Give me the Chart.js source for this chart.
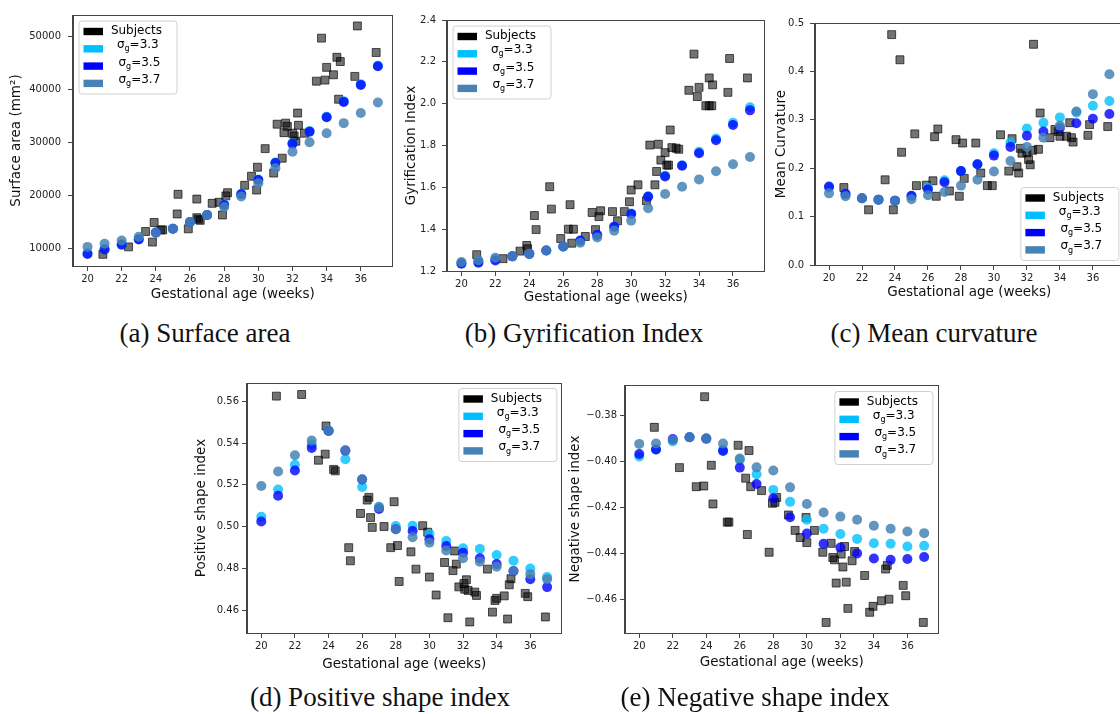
<!DOCTYPE html>
<html>
<head>
<meta charset="utf-8">
<script src="https://cdn.jsdelivr.net/npm/chart.js@4.4.0/dist/chart.umd.min.js"></script>
<style>
    html, body { margin: 0; padding: 0; background: #fff; width: 1120px; height: 714px; overflow: hidden; }
    canvas { position: absolute; }
    .caption {
        position: absolute;
        font-family: 'Liberation Serif', 'DejaVu Serif', serif;
        font-size: 27px;
        line-height: 31px;
        color: #111;
        transform: translateX(-50%);
        white-space: nowrap;
    }
</style>
</head>
<body>
<canvas id="surfaceChart"></canvas>
<canvas id="gyrificationChart"></canvas>
<canvas id="curvatureChart"></canvas>
<canvas id="positiveChart"></canvas>
<canvas id="negativeChart"></canvas>
<div class="caption" style="left:205px; top:318px;">(a) Surface area</div>
<div class="caption" style="left:584px; top:318px;">(b) Gyrification Index</div>
<div class="caption" style="left:934px; top:318px;">(c) Mean curvature</div>
<div class="caption" style="left:380px; top:682px;">(d) Positive shape index</div>
<div class="caption" style="left:755px; top:682px;">(e) Negative shape index</div>
<script>
// Model ages (weeks) and shared tick labels
const modelAges = [20, 21, 22, 23, 24, 25, 26, 27, 28, 29, 30, 31, 32, 33, 34, 35, 36, 37];
const ageTicks = [20, 22, 24, 26, 28, 30, 32, 34, 36];
const sigmaValues = ['3.3', '3.5', '3.7'];
const subjectsLabel = 'Subjects';

// (a) Surface area
const surfaceSubjects = [[20.9, 8900], [22.4, 10300], [23.4, 13200], [23.8, 11200], [23.9, 14900], [24.3, 13500], [24.4, 13500],
    [25.25, 16500], [25.3, 20200], [25.9, 13700], [26.4, 19300], [26.4, 15800], [26.5, 15500], [26.6, 15300], [27.3, 18500],
    [27.7, 18700], [27.9, 16300], [28.1, 19900], [28.2, 20500], [29.2, 21900], [29.6, 23600], [29.9, 21000], [29.95, 25300],
    [30.4, 28800], [30.9, 24200], [31.1, 33400], [31.4, 27000], [31.5, 31800], [31.6, 33600], [31.7, 33000], [32.0, 31700],
    [32.1, 31200], [32.2, 30200], [32.3, 35500], [32.35, 33200], [32.7, 31700], [33.4, 41500], [33.7, 49600], [33.9, 41700],
    [34.0, 44100], [34.4, 42700], [34.6, 46000], [34.7, 38100], [34.8, 45200], [35.65, 42400], [35.8, 51900], [36.9, 46900]];
const surfaceS33 = [9100, 9900, 10800, 11800, 13000, 13700, 15000, 16300, 18300, 20300, 23000, 26200, 29800, 32100, 34800, 37700, 40900, 44400];
const surfaceS35 = [8950, 9800, 10700, 11700, 13000, 13700, 15000, 16300, 18200, 20200, 22900, 26100, 29700, 32000, 34700, 37600, 40800, 44300];
const surfaceS37 = [10300, 10900, 11500, 12200, 12900, 13700, 15000, 16300, 17800, 19800, 22300, 25100, 28200, 30000, 31700, 33600, 35500, 37500];
const surfaceTicks = [10000, 20000, 30000, 40000, 50000];

// (b) Gyrification index
const gyrSubjects = [[20.9, 1.278], [22.45, 1.259], [23.45, 1.295], [23.85, 1.322], [23.9, 1.306], [24.3, 1.465], [24.4, 1.398],
    [25.2, 1.603], [25.3, 1.496], [25.85, 1.355], [26.3, 1.40], [26.4, 1.517], [26.5, 1.333], [26.6, 1.40], [27.3, 1.365],
    [27.7, 1.48], [27.9, 1.398], [28.1, 1.46], [28.2, 1.488], [28.9, 1.484], [29.2, 1.44], [29.6, 1.484], [29.9, 1.531],
    [30.0, 1.587], [30.4, 1.612], [30.9, 1.536], [31.1, 1.802], [31.4, 1.612], [31.5, 1.676], [31.6, 1.806], [31.75, 1.73],
    [32.0, 1.766], [32.1, 1.706], [32.2, 1.706], [32.3, 1.874], [32.4, 1.79], [32.65, 1.787], [32.8, 1.782], [33.4, 2.064],
    [33.7, 2.237], [33.9, 2.034], [34.0, 2.078], [34.4, 1.99], [34.6, 2.123], [34.6, 1.99], [34.75, 1.99], [34.8, 2.09],
    [35.7, 2.054], [35.8, 2.216], [36.85, 2.123]];
const gyrS33 = [1.238, 1.243, 1.255, 1.27, 1.283, 1.298, 1.317, 1.343, 1.37, 1.41, 1.475, 1.557, 1.655, 1.706, 1.77, 1.833, 1.909, 1.983];
const gyrS35 = [1.235, 1.24, 1.25, 1.27, 1.282, 1.298, 1.317, 1.346, 1.373, 1.412, 1.473, 1.555, 1.652, 1.703, 1.763, 1.825, 1.898, 1.968];
const gyrS37 = [1.243, 1.251, 1.263, 1.27, 1.282, 1.298, 1.317, 1.335, 1.36, 1.393, 1.441, 1.50, 1.568, 1.603, 1.638, 1.677, 1.71, 1.745];
const gyrTicks = [1.2, 1.4, 1.6, 1.8, 2.0, 2.2, 2.4];

// (c) Mean curvature
const curvSubjects = [[20.9, 0.160], [22.4, 0.114], [23.4, 0.176], [23.8, 0.476], [23.9, 0.114], [24.3, 0.424], [24.4, 0.233],
    [25.2, 0.271], [25.3, 0.164], [25.9, 0.165], [26.3, 0.174], [26.4, 0.265], [26.5, 0.142], [26.6, 0.281], [27.3, 0.153],
    [27.7, 0.259], [27.9, 0.142], [28.1, 0.252], [28.2, 0.179], [28.9, 0.252], [29.2, 0.190], [29.6, 0.164], [29.9, 0.164],
    [30.4, 0.269], [30.9, 0.194], [31.1, 0.261], [31.4, 0.203], [31.5, 0.190], [31.6, 0.241], [31.7, 0.231], [32.0, 0.232],
    [32.1, 0.218], [32.2, 0.207], [32.4, 0.456], [32.35, 0.237], [32.7, 0.239], [32.8, 0.314], [33.4, 0.263], [33.7, 0.280],
    [33.9, 0.276], [34.0, 0.266], [34.4, 0.266], [34.6, 0.294], [34.7, 0.263], [34.8, 0.254], [35.7, 0.268], [35.8, 0.290],
    [36.9, 0.286]];
const curvS33 = [0.160, 0.146, 0.138, 0.135, 0.133, 0.142, 0.160, 0.175, 0.194, 0.208, 0.231, 0.253, 0.282, 0.294, 0.305, 0.315, 0.329, 0.339];
const curvS35 = [0.162, 0.147, 0.138, 0.135, 0.133, 0.143, 0.156, 0.171, 0.194, 0.208, 0.226, 0.244, 0.267, 0.276, 0.283, 0.293, 0.302, 0.312];
const curvS37 = [0.148, 0.142, 0.138, 0.135, 0.133, 0.136, 0.144, 0.151, 0.164, 0.176, 0.193, 0.215, 0.244, 0.263, 0.288, 0.317, 0.353, 0.394];
const curvTicks = [0.0, 0.1, 0.2, 0.3, 0.4, 0.5];

// (d) Positive shape index
const posSubjects = [[20.9, 0.5625], [22.4, 0.5633], [23.4, 0.5318], [23.8, 0.5347], [23.85, 0.5482], [24.3, 0.5274], [24.4, 0.5267],
    [25.2, 0.4899], [25.3, 0.4836], [25.9, 0.5063], [26.3, 0.5127], [26.4, 0.514], [26.5, 0.5043], [26.6, 0.4996], [27.3, 0.50],
    [27.7, 0.4899], [27.9, 0.5119], [28.1, 0.4909], [28.2, 0.4737], [28.9, 0.4879], [29.2, 0.4796], [29.6, 0.5004], [29.9, 0.4973],
    [30.0, 0.4758], [30.4, 0.4672], [30.9, 0.4828], [31.1, 0.4563], [31.4, 0.4789], [31.5, 0.4883], [31.6, 0.482], [31.75, 0.4711],
    [32.05, 0.4727], [32.1, 0.47], [32.2, 0.4745], [32.3, 0.4694], [32.4, 0.4543], [32.7, 0.4686], [32.8, 0.467], [33.45, 0.4796],
    [33.75, 0.459], [33.9, 0.4646], [34.0, 0.4656], [34.45, 0.4668], [34.65, 0.4557], [34.75, 0.4721], [34.85, 0.475],
    [35.7, 0.468], [35.85, 0.4664], [36.9, 0.4567]];
const posS33 = [0.5047, 0.5178, 0.5296, 0.5393, 0.5462, 0.5323, 0.519, 0.5095, 0.5003, 0.5004, 0.4965, 0.4931, 0.4896, 0.4893, 0.4864, 0.4836, 0.4799, 0.4758];
const posS35 = [0.5024, 0.5148, 0.5269, 0.5377, 0.5458, 0.5364, 0.5226, 0.5084, 0.4987, 0.4979, 0.4939, 0.4907, 0.4875, 0.4848, 0.4821, 0.4786, 0.4748, 0.471];
const posS37 = [0.5194, 0.5264, 0.5342, 0.5412, 0.5458, 0.5366, 0.5227, 0.5092, 0.4987, 0.4949, 0.4923, 0.4885, 0.4848, 0.4832, 0.4808, 0.4788, 0.4772, 0.4748];
const posTicks = [0.46, 0.48, 0.50, 0.52, 0.54, 0.56];

// (e) Negative shape index
const negSubjects = [[20.9, -0.3852], [22.4, -0.4027], [23.4, -0.411], [23.85, -0.4107], [23.9, -0.3719], [24.3, -0.4017], [24.4, -0.4185],
    [25.25, -0.4264], [25.35, -0.4264], [25.9, -0.393], [26.35, -0.4073], [26.45, -0.4318], [26.55, -0.3953], [26.65, -0.411],
    [27.3, -0.4127], [27.75, -0.4395], [27.95, -0.4182], [28.1, -0.4178], [28.2, -0.4157], [28.9, -0.4233], [29.3, -0.43],
    [29.6, -0.4331], [29.95, -0.4244], [30.0, -0.4353], [30.45, -0.43], [30.95, -0.4395], [31.15, -0.47], [31.45, -0.4356],
    [31.55, -0.4418], [31.65, -0.4428], [31.75, -0.4529], [32.05, -0.4403], [32.15, -0.4459], [32.25, -0.437], [32.35, -0.4525],
    [32.45, -0.4639], [32.7, -0.4432], [32.85, -0.4392], [33.45, -0.4496], [33.75, -0.4656], [33.95, -0.463], [34.45, -0.4606],
    [34.7, -0.4468], [34.8, -0.4452], [34.9, -0.4599], [35.75, -0.4539], [35.9, -0.4584], [36.95, -0.47]];
const negS33 = [-0.3979, -0.3948, -0.3913, -0.3895, -0.3901, -0.395, -0.3994, -0.4056, -0.4124, -0.4176, -0.4254, -0.4293, -0.4316, -0.4337, -0.4356, -0.4358, -0.437, -0.4367];
const negS35 = [-0.3968, -0.3948, -0.3903, -0.3895, -0.3901, -0.3955, -0.4027, -0.4098, -0.416, -0.4243, -0.4314, -0.4358, -0.4374, -0.44, -0.4422, -0.4428, -0.4424, -0.4416];
const negS37 = [-0.3924, -0.3922, -0.3907, -0.3895, -0.3901, -0.3922, -0.3988, -0.4026, -0.404, -0.4113, -0.4185, -0.4222, -0.424, -0.4254, -0.428, -0.4293, -0.4305, -0.4312];
const negTicks = [-0.46, -0.44, -0.42, -0.40, -0.38];

// Colours
const SUBJECT_FILL = 'rgba(0, 0, 0, 0.55)';
const SUBJECT_EDGE = 'rgba(0, 0, 0, 0.65)';
const SIGMA_COLORS = ['#00bfff', '#0000ff', '#4682b4'];
const SIGMA_FILLS = ['rgba(0, 191, 255, 0.8)', 'rgba(0, 0, 255, 0.8)', 'rgba(70, 130, 180, 0.85)'];
const TEXT_COLOR = '#222';
const AXIS_COLOR = '#444';

// Frame (all four spines) plus a matplotlib-style legend box inside the axes
const framePlugin = {
    id: 'frameLegend',
    afterDraw(chart, args, opts) {
        const { ctx, chartArea: a } = chart;
        ctx.save();
        ctx.strokeStyle = AXIS_COLOR;
        ctx.lineWidth = 1;
        ctx.strokeRect(Math.round(a.left) - 0.5, Math.round(a.top) + 0.5,
            Math.round(a.right) - Math.round(a.left) + 1, Math.round(a.bottom) - Math.round(a.top));

        const w = 98, h = 73, m = opts.margin || 5.5;
        const x = opts.corner.includes('r') ? a.right - m - w : a.left + m;
        const y = opts.corner.includes('b') ? a.bottom - m - h : a.top + m;
        ctx.beginPath();
        ctx.roundRect(x + 0.5, y + 0.5, w, h, 3);
        ctx.fillStyle = 'rgba(255,255,255,0.85)';
        ctx.fill();
        ctx.strokeStyle = '#d0d0d0';
        ctx.stroke();

        const patchColors = ['#000000'].concat(SIGMA_COLORS);
        patchColors.forEach((c, i) => {
            const cy = y + 11 + i * 17.3;
            ctx.fillStyle = c;
            ctx.fillRect(x + 5, cy - 3.7, 19.5, 7.4);
            ctx.fillStyle = '#000';
            ctx.textBaseline = 'alphabetic';
            ctx.textAlign = 'left';
            if (i === 0) {
                ctx.font = '12px "DejaVu Sans"';
                ctx.fillText(subjectsLabel, x + 32.4, cy + 2.5);
            } else {
                const tx = x + (i === 1 ? 38.4 : 40);
                ctx.font = '12px "DejaVu Sans"';
                ctx.fillText('σ', tx, cy - 0.6);
                const sw = ctx.measureText('σ').width;
                ctx.font = '8px "DejaVu Sans"';
                ctx.fillText('g', tx + sw, cy + 2.6);
                const gw = ctx.measureText('g').width;
                ctx.font = '12px "DejaVu Sans"';
                ctx.fillText('=' + sigmaValues[i - 1], tx + sw + gw, cy - 0.6);
            }
        });
        ctx.restore();
    }
};

function fmt(v, decimals) {
    return v.toFixed(decimals).replace('-', '\u2212');
}

function buildPanel(cfg) {
    const canvas = document.getElementById(cfg.id);
    canvas.width = cfg.box.w;
    canvas.height = cfg.box.h;
    canvas.style.left = cfg.box.left + 'px';
    canvas.style.top = cfg.box.top + 'px';

    const sigmaSeries = cfg.series.map((vals, k) => ({
        label: 'σg=' + sigmaValues[k],
        data: modelAges.map((x, i) => ({ x, y: vals[i] })),
        pointStyle: 'circle',
        pointRadius: 5,
        backgroundColor: SIGMA_FILLS[k],
        borderWidth: 0,
        order: 3 - k
    }));

    return new Chart(canvas, {
        type: 'scatter',
        data: {
            datasets: [{
                label: subjectsLabel,
                data: cfg.subjects.map(([x, y]) => ({ x, y })),
                pointStyle: 'rect',
                pointRadius: 5.6,
                backgroundColor: SUBJECT_FILL,
                borderColor: SUBJECT_EDGE,
                borderWidth: 1,
                order: 4
            }].concat(sigmaSeries)
        },
        options: {
            responsive: false,
            animation: false,
            events: [],
            layout: { padding: { top: 10, right: 6, left: 0, bottom: 0 } },
            plugins: {
                legend: { display: false },
                tooltip: { enabled: false },
                frameLegend: { corner: cfg.corner, margin: cfg.margin }
            },
            scales: {
                x: {
                    type: 'linear',
                    min: 19.15,
                    max: 37.85,
                    afterFit: s => { s.height = cfg.xAxisH; },
                    afterBuildTicks: s => { s.ticks = ageTicks.map(v => ({ value: v })); },
                    grid: { drawOnChartArea: false, drawTicks: true, tickLength: 5, color: AXIS_COLOR },
                    border: { display: true, color: AXIS_COLOR },
                    ticks: { color: TEXT_COLOR, padding: 2.5, font: { family: 'DejaVu Sans', size: 10 }, maxRotation: 0 },
                    title: { display: true, text: 'Gestational age (weeks)', color: '#111', padding: 0,
                        font: { family: 'DejaVu Sans', size: 13.5 } }
                },
                y: {
                    min: cfg.yMin,
                    max: cfg.yMax,
                    afterFit: s => { s.width = cfg.yAxisW; },
                    afterBuildTicks: s => { s.ticks = cfg.yTicks.map(v => ({ value: v })); },
                    grid: { drawOnChartArea: false, drawTicks: true, tickLength: 5, color: AXIS_COLOR },
                    border: { display: true, color: AXIS_COLOR },
                    ticks: { color: TEXT_COLOR, padding: cfg.yPad, font: { family: 'DejaVu Sans', size: 10 },
                        callback: v => fmt(v, cfg.decimals) },
                    title: { display: true, text: cfg.yTitle, color: '#111', padding: 0,
                        font: { family: 'DejaVu Sans', size: 13.5 } }
                }
            }
        },
        plugins: [framePlugin]
    });
}

const panels = [
    { id: 'surfaceChart', subjects: surfaceSubjects, series: [surfaceS33, surfaceS35, surfaceS37], yTicks: surfaceTicks,
      yMin: 6700, yMax: 53960, decimals: 0, yTitle: 'Surface area (mm²)', corner: 'tl',
      box: { left: 8, top: 2, w: 391, h: 301 }, yAxisW: 65, xAxisH: 37, yPad: 7 },
    { id: 'gyrificationChart', subjects: gyrSubjects, series: [gyrS33, gyrS35, gyrS37], yTicks: gyrTicks,
      yMin: 1.2, yMax: 2.4, decimals: 1, yTitle: 'Gyrification Index', corner: 'tl',
      box: { left: 403, top: 8, w: 368, h: 298 }, yAxisW: 44, xAxisH: 35, yPad: 6 },
    { id: 'curvatureChart', subjects: curvSubjects, series: [curvS33, curvS35, curvS37], yTicks: curvTicks,
      yMin: 0, yMax: 0.5, decimals: 1, yTitle: 'Mean Curvature', corner: 'br', margin: 5,
      box: { left: 773, top: 11, w: 357, h: 290 }, yAxisW: 42, xAxisH: 36, yPad: 6 },
    { id: 'positiveChart', subjects: posSubjects, series: [posS33, posS35, posS37], yTicks: posTicks,
      yMin: 0.449, yMax: 0.5688, decimals: 2, yTitle: 'Positive shape index', corner: 'tr', margin: 5,
      box: { left: 193, top: 373, w: 375, h: 300 }, yAxisW: 54, xAxisH: 40, yPad: 3 },
    { id: 'negativeChart', subjects: negSubjects, series: [negS33, negS35, negS37], yTicks: negTicks,
      yMin: -0.4746, yMax: -0.3668, decimals: 2, yTitle: 'Negative shape index', corner: 'tr', margin: 6,
      box: { left: 567, top: 375, w: 378, h: 296 }, yAxisW: 58, xAxisH: 38, yPad: 3 }
];

panels.forEach(buildPanel);
</script>
</body>
</html>
